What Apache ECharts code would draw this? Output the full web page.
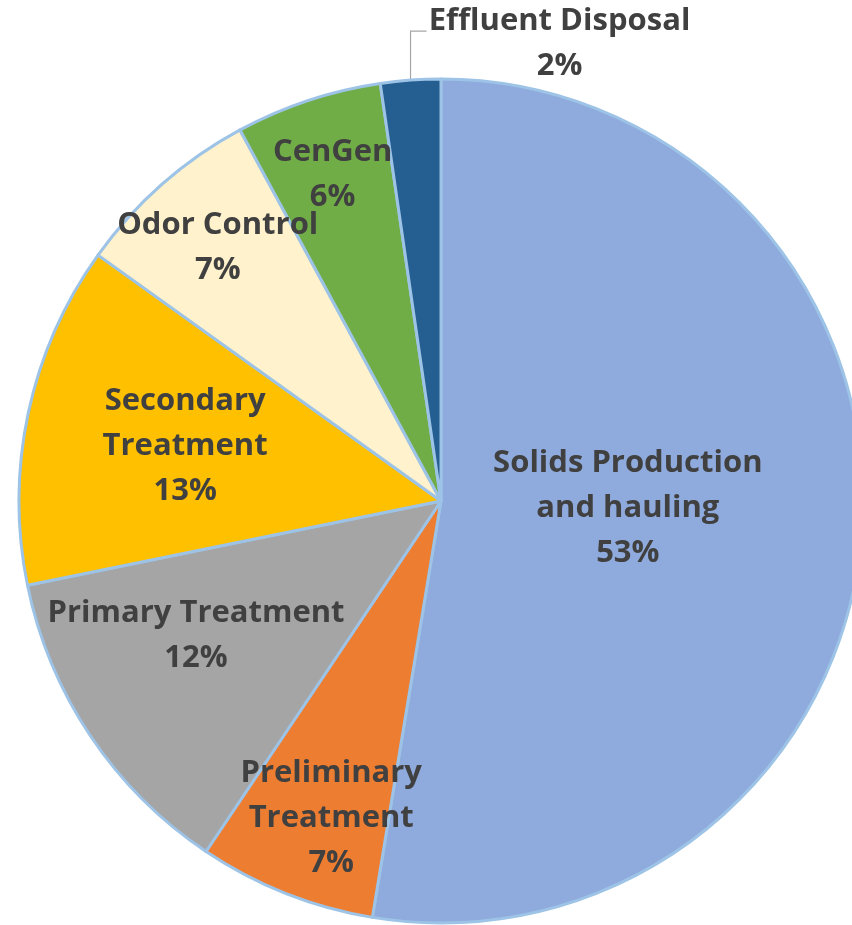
<!DOCTYPE html>
<html>
<head>
<meta charset="utf-8">
<script src="https://cdn.jsdelivr.net/npm/echarts@6/dist/echarts.min.js"></script>
<style>
html,body{margin:0;padding:0;background:#fff;}
#chart{width:852px;height:925px;}
</style>
</head>
<body>
<div id="chart"></div>
<script>
// ---- data ----
const categories = ['Solids Production\nand hauling', 'Preliminary\nTreatment', 'Primary Treatment', 'Secondary\nTreatment', 'Odor Control', 'CenGen', 'Effluent Disposal'];
const values = [52.6, 6.8, 12.4, 13.1, 7.2, 5.6, 2.3];
const colors = ['#8FAADC', '#ED7D31', '#A5A5A5', '#FFC000', '#FFF2CC', '#70AD47', '#255E91'];

// ---- layout (style) ----
const CX = 441, CY = 501, R = 422;
const labelRadiusFrac = [0.443, 0.795, 0.662, 0.62, 0.80, 0.815, null];
const labelAngleShiftDeg = [-2.6, -2.5, 5.1, 0, 0, 0, 0];
const total = values.reduce((a, b) => a + b, 0);
const midAngles = [];
{
  let acc = 0;
  values.forEach(v => { midAngles.push((acc + v / 2) / total * 2 * Math.PI); acc += v; });
}

const chart = echarts.init(document.getElementById('chart'), null, {renderer: 'canvas'});
const font = {fontFamily: '"Open Sans", sans-serif', fontWeight: 'bold', fontSize: 31, lineHeight: 45, color: '#404040'};

const data = categories.map((name, i) => {
  const item = {name: name, value: values[i], itemStyle: {color: colors[i]}};
  if (i === categories.length - 1) {
    item.label = {position: 'outside'};
    item.labelLine = {show: true, lineStyle: {color: '#A6A6A6', width: 1.2}};
  }
  return item;
});

chart.setOption({
  animation: false,
  series: [{
    type: 'pie',
    center: [CX, CY],
    radius: [0, R],
    startAngle: 90,
    clockwise: true,
    avoidLabelOverlap: false,
    data: data,
    itemStyle: {borderColor: '#9DC3E6', borderWidth: 3},
    label: Object.assign({
      show: true,
      position: 'inside',
      align: 'center',
      formatter: p => p.name + '\n' + Math.round(p.value) + '%'
    }, font),
    labelLine: {show: false},
    labelLayout: function (params) {
      const i = params.dataIndex;
      const a = midAngles[i] + labelAngleShiftDeg[i] * Math.PI / 180;
      if (labelRadiusFrac[i] != null) {
        const rr = R * labelRadiusFrac[i];
        return {x: CX + rr * Math.sin(a), y: CY - rr * Math.cos(a), align: 'center', verticalAlign: 'middle'};
      }
      const ex = CX + R * Math.sin(a), ey = CY - R * Math.cos(a);
      const elbowY = ey - 49;
      const endX = ex + 16;
      return {
        x: endX + 133, y: elbowY + 13, align: 'center', verticalAlign: 'middle',
        labelLinePoints: [[ex, ey], [ex, elbowY], [endX, elbowY]]
      };
    }
  }]
});
</script>
</body>
</html>
